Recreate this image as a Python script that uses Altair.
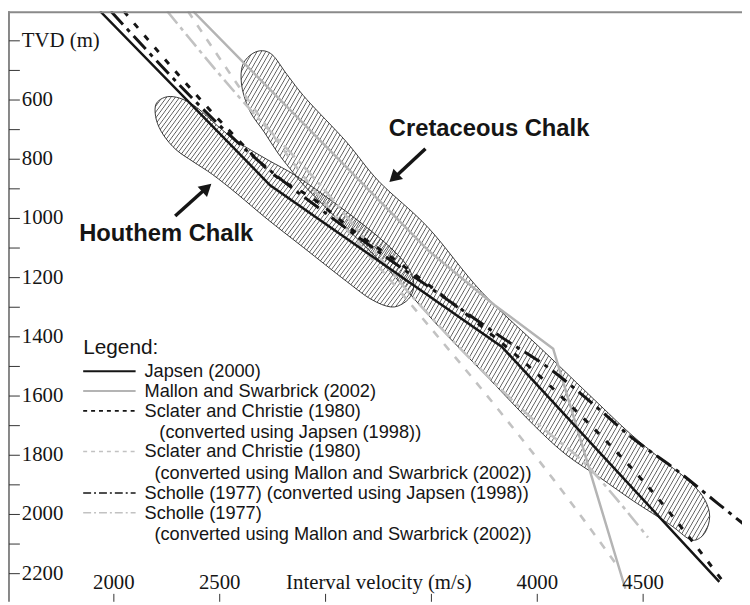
import altair as alt
import pandas as pd

# ---------------- data ----------------
# Japsen (2000) : velocity (m/s) and TVD (m)
japsen_v = [1935, 2738, 3832, 4860]
japsen_d = [300, 888, 1433, 2228]

# Mallon and Swarbrick (2002)
mallon_v = [2374, 3486, 3799, 4075, 4416]
mallon_d = [300, 1109, 1293, 1440, 2251]

# Sclater and Christie (1980) converted using Japsen (1998)
sclater_j_v = [2047, 2561, 2738, 2958, 3145, 3346, 3519, 3785, 3939, 4173, 4500, 4897]
sclater_j_d = [300, 715, 842, 942, 1049, 1149, 1242, 1393, 1486, 1643, 1887, 2245]

# Sclater and Christie (1980) converted using Mallon and Swarbrick (2002)
sclater_m_v = [2350, 2879, 3425, 3813, 4079, 4383]
sclater_m_d = [300, 842, 1309, 1643, 1884, 2178]

# Scholle (1977) converted using Japsen (1998)
scholle_j_v = [1986, 2687, 3051, 3645, 3841, 4056, 4257, 4453, 4659, 4855, 4967, 5050]
scholle_j_d = [300, 808, 1009, 1309, 1406, 1506, 1623, 1744, 1851, 1964, 2028, 2075]

# Scholle (1977) converted using Mallon and Swarbrick (2002)
scholle_m_v = [2252, 2584, 2972, 3425, 4019, 4234, 4397, 4523]
scholle_m_d = [300, 584, 885, 1276, 1704, 1834, 1967, 2078]

# Houthem Chalk envelope (outline)
houthem_v = [2196, 2220, 2266, 2327, 2397, 2491, 2584, 2724, 2865, 3051, 3215, 3332, 3393, 3416,
             3407, 3369, 3308, 3215, 3098, 2897, 2724, 2584, 2467, 2374, 2294, 2234, 2201]
houthem_d = [621, 598, 588, 598, 628, 688, 741, 801, 858, 952, 1042, 1116, 1169, 1216,
             1256, 1286, 1299, 1273, 1212, 1099, 1002, 918, 852, 808, 768, 718, 668]

# Cretaceous Chalk envelope (outline)
cret_v = [2631, 2687, 2748, 2818, 2911, 3098, 3252, 3486, 3738, 4033, 4266, 4439, 4579, 4701,
          4780, 4813, 4804, 4771, 4720, 4626, 4453, 4299, 4140, 3986, 3752, 3519, 3308, 3098,
          2911, 2832, 2771, 2710, 2645, 2607, 2603]
cret_d = [457, 434, 447, 514, 598, 741, 875, 1032, 1249, 1450, 1610, 1727, 1810, 1877,
          1937, 1994, 2044, 2078, 2084, 2034, 1954, 1877, 1800, 1700, 1526, 1353, 1182, 1032,
          898, 832, 775, 708, 641, 564, 497]

# axis ticks and labels
x_ticks = [2000, 2500, 3000, 3500, 4000, 4500]
x_labels = ["2000", "2500", "", "", "4000", "4500"]
y_ticks = list(range(400, 2201, 100))
y_label_vals = [400, 600, 800, 1000, 1200, 1400, 1600, 1800, 2000, 2200]
y_labels = ["TVD (m)", "600", "800", "1000", "1200", "1400", "1600", "1800", "2000", "2200"]

legend_texts = ["Japsen (2000)", "Mallon and Swarbrick (2002)", "Sclater and Christie (1980)",
                "(converted using Japsen (1998))", "Sclater and Christie (1980)",
                "(converted using Mallon and Swarbrick (2002))",
                "Scholle (1977) (converted using Japsen (1998))", "Scholle (1977)",
                "(converted using Mallon and Swarbrick (2002))"]

# ---------------- layout / style ----------------
W, H = 742, 597
xs = alt.Scale(domain=[1500, 4967], nice=False, zero=False)
ys = alt.Scale(domain=[300, 2295], nice=False, zero=False, reverse=True)

SERIF = "Liberation Serif"
SANS = "Liberation Sans"
BLACK = "#151515"
GREY = "#b4b4b4"
LGREY = "#c2c2c2"


def X(field="v"):
    return alt.X(f"{field}:Q", scale=xs, axis=None)


def Y(field="d"):
    return alt.Y(f"{field}:Q", scale=ys, axis=None)


def frame(v, d):
    return pd.DataFrame({"v": v, "d": d, "i": list(range(len(v)))})


def hatch(n):
    clear = "rgba(60,60,60,0)"
    ink = "rgba(60,60,60,0.85)"
    stops = []
    for k in range(n):
        stops.append(alt.GradientStop(color=clear, offset=k / n))
        stops.append(alt.GradientStop(color=clear, offset=(k + 0.58) / n))
        stops.append(alt.GradientStop(color=ink, offset=(k + 0.79) / n))
    stops.append(alt.GradientStop(color=clear, offset=1))
    return alt.LinearGradient(gradient="linear", stops=stops, x1=0, y1=0, x2=1.176, y2=0.706)


def shape(v, d, n):
    return alt.Chart(frame(v, d)).mark_line(
        interpolate="cardinal-closed", fill=hatch(n), stroke="#222", strokeWidth=0.9, clip=True
    ).encode(x=X(), y=Y(), order=alt.Order("i:Q"))


def curve(v, d, color, width, dash=None, interp="linear"):
    kw = dict(color=color, strokeWidth=width, clip=True, interpolate=interp)
    if dash:
        kw["strokeDash"] = dash
    return alt.Chart(frame(v, d)).mark_line(**kw).encode(x=X(), y=Y(), order=alt.Order("i:Q"))


one = pd.DataFrame({"t": [""]})


def label(s, x, y, size=18.4, bold=False, font=SANS, align="left", baseline="middle"):
    return alt.Chart(pd.DataFrame({"t": [s]})).mark_text(
        font=font, fontSize=size, fontWeight="bold" if bold else "normal",
        align=align, baseline=baseline, color=BLACK
    ).encode(x=alt.value(x), y=alt.value(y), text="t:N")


def sample(y, color, width, dash=None):
    kw = dict(color=color, strokeWidth=width)
    if dash:
        kw["strokeDash"] = dash
    return alt.Chart(one).mark_rule(**kw).encode(
        x=alt.value(76), x2=alt.value(129), y=alt.value(y))


def arrow(tx, ty, sx, sy, hx, hy, ang):
    shaft = alt.Chart(one).mark_rule(color=BLACK, strokeWidth=3.5).encode(
        x=alt.value(tx), y=alt.value(ty), x2=alt.value(sx), y2=alt.value(sy))
    head = alt.Chart(one).mark_point(shape="triangle-up", filled=True, size=200,
                                     color=BLACK, opacity=1, angle=ang).encode(
        x=alt.value(hx), y=alt.value(hy))
    return [shaft, head]


# ---- axes drawn from the tick arrays ----
ytick_df = pd.DataFrame({"d": y_ticks})
ylab_df = pd.DataFrame({"d": y_label_vals, "t": y_labels})
xtick_df = pd.DataFrame({"v": x_ticks, "t": x_labels})

axes_layers = [
    alt.Chart(one).mark_rule(color="#6a6a6a", strokeWidth=1.6).encode(
        x=alt.value(1), y=alt.value(0), y2=alt.value(H)),
    alt.Chart(ytick_df).mark_rule(color="#333", strokeWidth=1).encode(
        y=Y(), x=alt.value(1), x2=alt.value(12)),
    alt.Chart(ylab_df).mark_text(font=SERIF, fontSize=21, align="left", baseline="middle",
                                 color=BLACK).encode(y=Y(), x=alt.value(14), text="t:N"),
    alt.Chart(xtick_df).mark_rule(color="#333", strokeWidth=1).encode(
        x=X(), y=alt.value(589), y2=alt.value(H)),
    alt.Chart(xtick_df).mark_text(font=SERIF, fontSize=21, align="center",
                                  baseline="alphabetic", color=BLACK).encode(
        x=X(), y=alt.value(584), text="t:N"),
    # top frame line
    alt.Chart(one).mark_rule(color="#8a8a8a", strokeWidth=2).encode(
        x=alt.value(0), x2=alt.value(W), y=alt.value(1)),
]

layers = [
    shape(cret_v, cret_d, 172),
    shape(houthem_v, houthem_d, 95),
    curve(mallon_v, mallon_d, GREY, 2.5),
    curve(sclater_m_v, sclater_m_d, LGREY, 2.6, [8, 9], "monotone"),
    curve(scholle_m_v, scholle_m_d, LGREY, 2.6, [16, 5, 4, 5], "monotone"),
    curve(sclater_j_v, sclater_j_d, BLACK, 3, [6, 10], "monotone"),
    curve(scholle_j_v, scholle_j_d, BLACK, 3, [18, 6, 4, 6], "monotone"),
    curve(japsen_v, japsen_d, BLACK, 2.5),
] + axes_layers + [
    label("Interval velocity (m/s)", 375, 584, size=21, font=SERIF, align="center",
          baseline="alphabetic"),
    label("Cretaceous Chalk", 385, 119, size=24, bold=True),
    label("Houthem Chalk", 72, 225, size=24, bold=True),
    label("Legend:", 76, 341, size=21),
]
layers += arrow(422, 139, 393, 166, 390, 168.5, 227)
layers += arrow(169, 207, 198, 181, 201, 178.5, 48)

row_y = [364, 384, 404, 425, 445, 467, 487, 507, 529]
row_x = [138, 138, 138, 153, 138, 148, 138, 138, 148]
for s, x, y in zip(legend_texts, row_x, row_y):
    layers.append(label(s, x, y))

layers += [
    sample(row_y[0], BLACK, 2),
    sample(row_y[1], GREY, 2),
    sample(row_y[2], BLACK, 1.6, [4, 4]),
    sample(row_y[4], LGREY, 1.6, [4, 4]),
    sample(row_y[6], BLACK, 1.6, [8, 3, 2, 3]),
    sample(row_y[7], LGREY, 1.6, [8, 3, 2, 3]),
]

chart = alt.layer(*layers).properties(
    width=W, height=H, padding=0, autosize=alt.AutoSizeParams(type="none"),
    background="white",
).configure_view(stroke=None)

chart.save("out.html", embed_options={"renderer": "svg", "actions": False})
